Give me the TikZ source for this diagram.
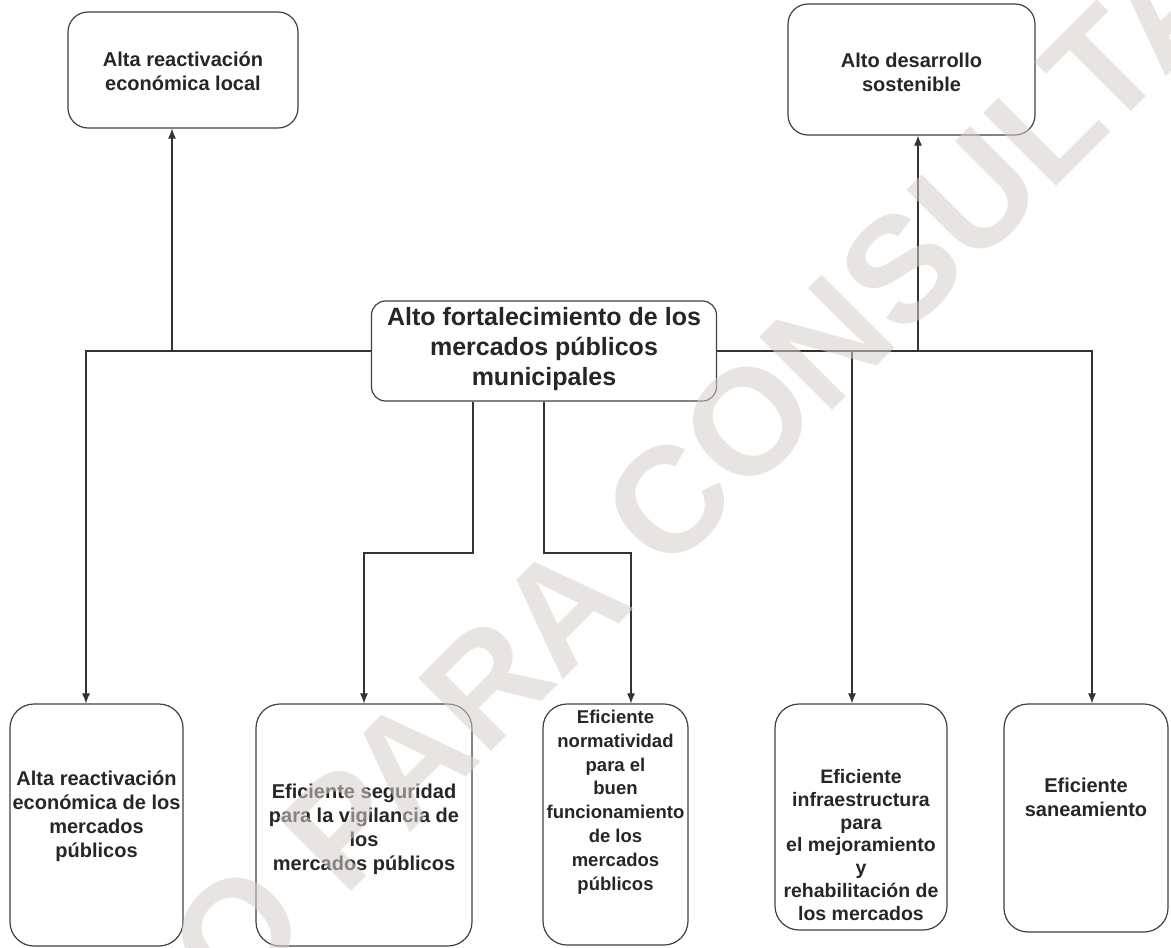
\documentclass[tikz,border=0pt]{standalone}
\usepackage{fontspec}
\setmainfont{Liberation Sans}
\usetikzlibrary{arrows.meta}

\begin{document}
\begin{tikzpicture}[x=1pt, y=-1pt,
        caja/.style={draw=black!75, line width=1.2pt, rounded corners=20pt},
        texto/.style={align=center, text=black!85, font=\bfseries\fontsize{20}{24}\selectfont},
        linea/.style={draw=black!80, line width=1.1pt},
        flecha/.style={linea, -{Latex[length=10pt, width=8pt]}},
        marca/.style={rotate=45, text={rgb,255:red,213;green,206;blue,203}, text opacity=0.55,
            font=\bfseries\fontsize{150}{150}\selectfont}]
        \useasboundingbox (0, 0) rectangle (1171, 948);

        % fines
        \node[caja, minimum width=230, minimum height=116] (finA) at (183, 70) {};
        \node[texto] (finAtxt) at (183, 71) {Alta reactivación\\económica local};
        \node[caja, minimum width=247, minimum height=131] (finB) at (911.5, 69.5) {};
        \node[texto] (finBtxt) at (911.5, 72) {Alto desarrollo\\sostenible};

        % objetivo
        \node[caja, rounded corners=14pt, minimum width=345, minimum height=100] (obj) at (544, 351) {};
        \node[texto, font=\bfseries\fontsize{25}{30}\selectfont] (objtxt) at (544, 349)
            {Alto fortalecimiento de los\\mercados públicos\\municipales};

        % medios
        \node[caja, rounded corners=24pt, minimum width=173, minimum height=242] (medio1) at (96.5, 825) {};
        \node[texto] (medio1txt) at (96.5, 816) {Alta reactivación\\económica de los\\mercados\\públicos};
        \node[caja, rounded corners=24pt, minimum width=216, minimum height=242] (medio2) at (364, 825) {};
        \node[texto] (medio2txt) at (364, 829) {Eficiente seguridad\\para la vigilancia de\\los\\mercados públicos};
        \node[caja, rounded corners=24pt, minimum width=145, minimum height=241] (medio3) at (615.5, 824.5) {};
        \node[texto, font=\bfseries\fontsize{18.5}{23.8}\selectfont] (medio3txt) at (615.5, 802)
            {Eficiente\\normatividad\\para el\\buen\\funcionamiento\\de los\\mercados\\públicos};
        \node[caja, rounded corners=24pt, minimum width=172, minimum height=226] (medio4) at (861, 817) {};
        \node[texto, font=\bfseries\fontsize{19.5}{22.8}\selectfont] (medio4txt) at (861, 845)
            {Eficiente\\infraestructura\\para\\el mejoramiento\\y\\rehabilitación de\\los mercados};
        \node[caja, rounded corners=24pt, minimum width=164, minimum height=228] (medio5) at (1086, 818) {};
        \node[texto] (medio5txt) at (1086, 797) {Eficiente\\saneamiento};

        % conectores
        \coordinate (izq) at (86, 351);
        \coordinate (jA) at (172, 351);
        \coordinate (der) at (1092, 351);
        \coordinate (jB) at (918, 351);
        \coordinate (j4) at (852, 351);
        \coordinate (c2) at (473, 553);
        \coordinate (c3) at (544, 553);
        \coordinate (c3b) at (631, 553);

        \draw[flecha] (obj.west) -- (izq) -- (izq |- medio1.north);
        \draw[flecha] (jA) -- (jA |- finA.south);
        \draw[flecha] (obj.east) -- (der) -- (der |- medio5.north);
        \draw[flecha] (jB) -- (jB |- finB.south);
        \draw[flecha] (j4) -- (j4 |- medio4.north);
        \draw[flecha] (obj.south -| c2) -- (c2) -| (medio2.north);
        \draw[flecha] (obj.south -| c3) -- (c3) -- (c3b) -- (c3b |- medio3.north);

        % marca de agua
        \begin{scope}
            \clip (0, 0) rectangle (1171, 948);
            \node[marca] (agua) at (700, 470) {O PARA CONSULTA};
        \end{scope}
    \end{tikzpicture}
\end{document}
